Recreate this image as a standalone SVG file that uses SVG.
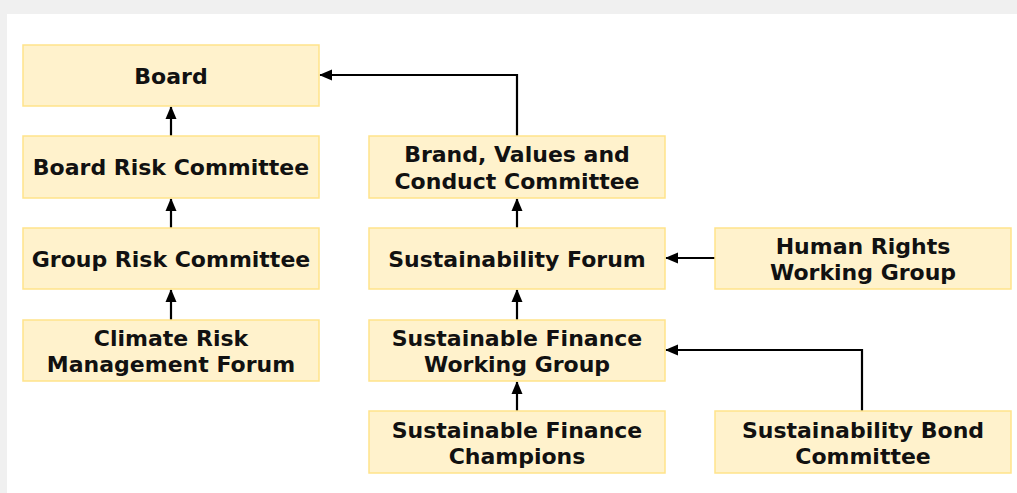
<svg xmlns="http://www.w3.org/2000/svg" width="1017" height="493" viewBox="0 0 1017 493">
<defs>
<style>
.box{fill:#fff2cc;stroke:#ffe38a;stroke-width:1.5}
.t{font-family:"DejaVu Sans",Verdana,sans-serif;font-weight:bold;font-size:22px;fill:#111;text-anchor:middle;dominant-baseline:central}
.c{fill:none;stroke:#000;stroke-width:2.2}
</style>
<marker id="ah" markerWidth="13" markerHeight="12" refX="12" refY="6" orient="auto" markerUnits="userSpaceOnUse">
<path d="M0,0.5 L13,6 L0,11.5 Z" fill="#000"/>
</marker>
</defs>
<rect x="0" y="0" width="1017" height="493" fill="#f0f0f0"/>
<rect x="7" y="14" width="1010" height="479" fill="#fff"/>
<g id="connectors">
<path class="c" d="M171,136 V107" marker-end="url(#ah)"/>
<path class="c" d="M171,228 V199" marker-end="url(#ah)"/>
<path class="c" d="M171,320 V290" marker-end="url(#ah)"/>
<path class="c" d="M517,136 V75 H320" marker-end="url(#ah)"/>
<path class="c" d="M517,228 V199" marker-end="url(#ah)"/>
<path class="c" d="M517,320 V290" marker-end="url(#ah)"/>
<path class="c" d="M517,411 V382" marker-end="url(#ah)"/>
<path class="c" d="M715,258 H666" marker-end="url(#ah)"/>
<path class="c" d="M862,411 V350 H666" marker-end="url(#ah)"/>
</g>
<g id="board"><rect class="box" x="23" y="45" width="296" height="61"/><text class="t" x="171" y="76">Board</text></g>
<g id="brc"><rect class="box" x="23" y="136" width="296" height="62"/><text class="t" x="171" y="167">Board Risk Committee</text></g>
<g id="grc"><rect class="box" x="23" y="228" width="296" height="61"/><text class="t" x="171" y="259">Group Risk Committee</text></g>
<g id="crmf"><rect class="box" x="23" y="320" width="296" height="61"/><text class="t" x="171" y="338">Climate Risk</text><text class="t" x="171" y="364">Management Forum</text></g>
<g id="bvcc"><rect class="box" x="369" y="136" width="296" height="62"/><text class="t" x="517" y="154">Brand, Values and</text><text class="t" x="517" y="181">Conduct Committee</text></g>
<g id="sf"><rect class="box" x="369" y="228" width="296" height="61"/><text class="t" x="517" y="259">Sustainability Forum</text></g>
<g id="sfwg"><rect class="box" x="369" y="320" width="296" height="61"/><text class="t" x="517" y="338">Sustainable Finance</text><text class="t" x="517" y="364">Working Group</text></g>
<g id="sfc"><rect class="box" x="369" y="411" width="296" height="62"/><text class="t" x="517" y="430">Sustainable Finance</text><text class="t" x="517" y="456">Champions</text></g>
<g id="hrwg"><rect class="box" x="715" y="228" width="296" height="61"/><text class="t" x="863" y="246">Human Rights</text><text class="t" x="863" y="272">Working Group</text></g>
<g id="sbc"><rect class="box" x="715" y="411" width="296" height="62"/><text class="t" x="863" y="430">Sustainability Bond</text><text class="t" x="863" y="456">Committee</text></g>
</svg>
